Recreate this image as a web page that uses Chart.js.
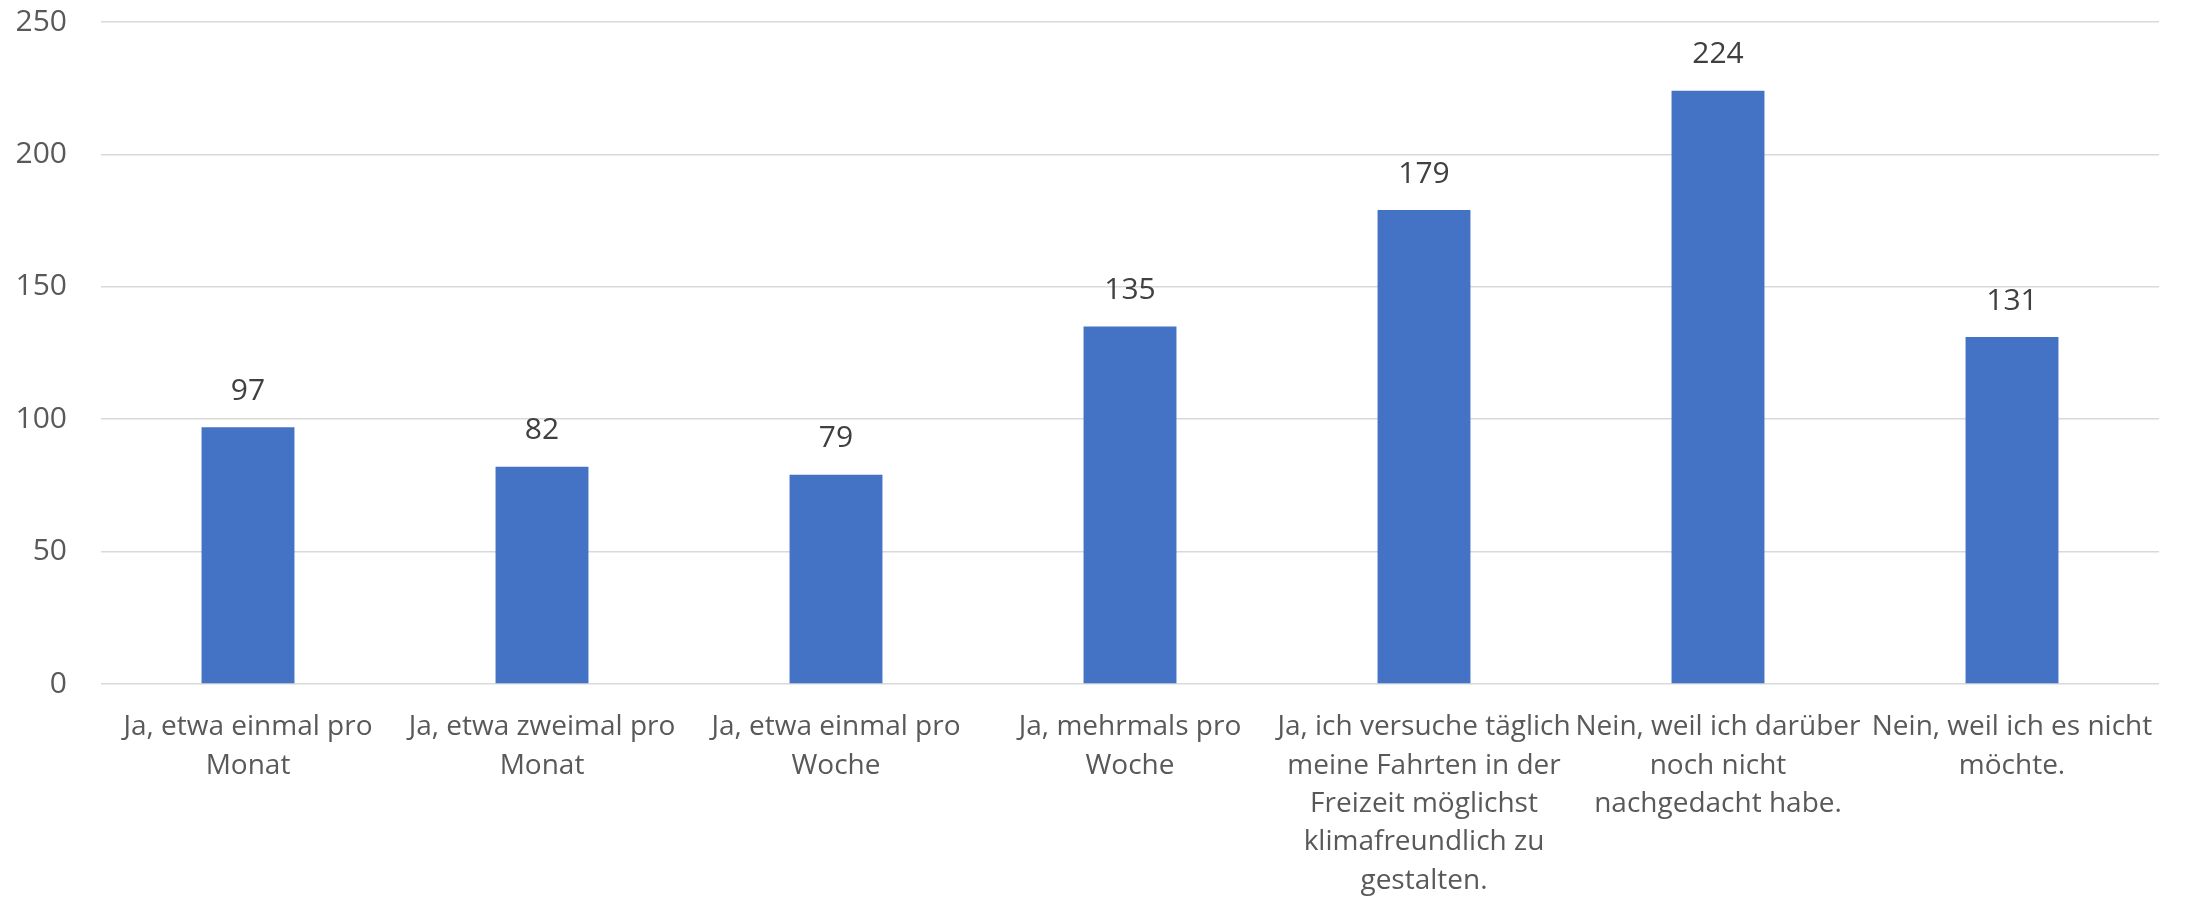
<!DOCTYPE html>
<html>
<head>
<meta charset="utf-8">
<script src="https://cdn.jsdelivr.net/npm/chart.js@4/dist/chart.umd.min.js"></script>
<style>
  html, body { margin: 0; padding: 0; background: #fff; }
  #wrap { width: 2190px; height: 897px; }
</style>
</head>
<body>
<div id="wrap"><canvas id="bar-chart"></canvas></div>
<script>
const categories = [
  ["Ja, etwa einmal pro", "Monat"],
  ["Ja, etwa zweimal pro", "Monat"],
  ["Ja, etwa einmal pro", "Woche"],
  ["Ja, mehrmals pro", "Woche"],
  ["Ja, ich versuche täglich", "meine Fahrten in der", "Freizeit möglichst", "klimafreundlich zu", "gestalten."],
  ["Nein, weil ich darüber", "noch nicht", "nachgedacht habe."],
  ["Nein, weil ich es nicht", "möchte."],
];
const counts = [97, 82, 79, 135, 179, 224, 131];
const yTicks = [0, 50, 100, 150, 200, 250];

const FONT = "'Open Sans', 'Noto Sans', sans-serif";

// draws the value above each bar (no datalabels plugin offline)
const valueLabels = {
  id: "valueLabels",
  afterDatasetsDraw(chart) {
    const ctx = chart.ctx;
    const meta = chart.getDatasetMeta(0);
    ctx.save();
    ctx.font = "30px " + FONT;
    ctx.fillStyle = "#404040";
    ctx.textAlign = "center";
    ctx.textBaseline = "middle";
    meta.data.forEach((bar, i) => {
      ctx.fillText(String(counts[i]), bar.x, bar.y - 36);
    });
    ctx.restore();
  },
};

const config = {
  type: "bar",
  data: {
    labels: categories,
    datasets: [
      {
        data: counts,
        backgroundColor: "#4472C4",
        borderWidth: 0,
        barPercentage: 1,
        categoryPercentage: 0.316,
      },
    ],
  },
  options: {
    responsive: true,
    maintainAspectRatio: false,
    animation: false,
    layout: {
      padding: { top: 22, right: 31, left: 0, bottom: 0 },
    },
    plugins: {
      legend: { display: false },
      tooltip: { enabled: false },
    },
    scales: {
      x: {
        grid: { display: false, drawTicks: false },
        border: { display: false },
        afterFit(scale) {
          scale.height = 213;
          scale.paddingLeft = 0;
          scale.paddingRight = 0;
        },
        ticks: {
          color: "#595959",
          font: { family: FONT, size: 28, lineHeight: 1.37 },
          padding: 24,
          maxRotation: 0,
          autoSkip: false,
        },
      },
      y: {
        min: 0,
        max: 250,
        afterBuildTicks(scale) {
          scale.ticks = yTicks.map((v) => ({ value: v }));
        },
        afterFit(scale) {
          scale.width = 101;
          scale.paddingTop = 0;
          scale.paddingBottom = 0;
        },
        grid: { color: "#d9d9d9", lineWidth: 1.5, drawTicks: false },
        border: { display: false },
        ticks: {
          color: "#595959",
          font: { family: FONT, size: 30 },
          padding: 34,
        },
      },
    },
  },
  plugins: [valueLabels],
};

new Chart("bar-chart", config);
</script>
</body>
</html>
